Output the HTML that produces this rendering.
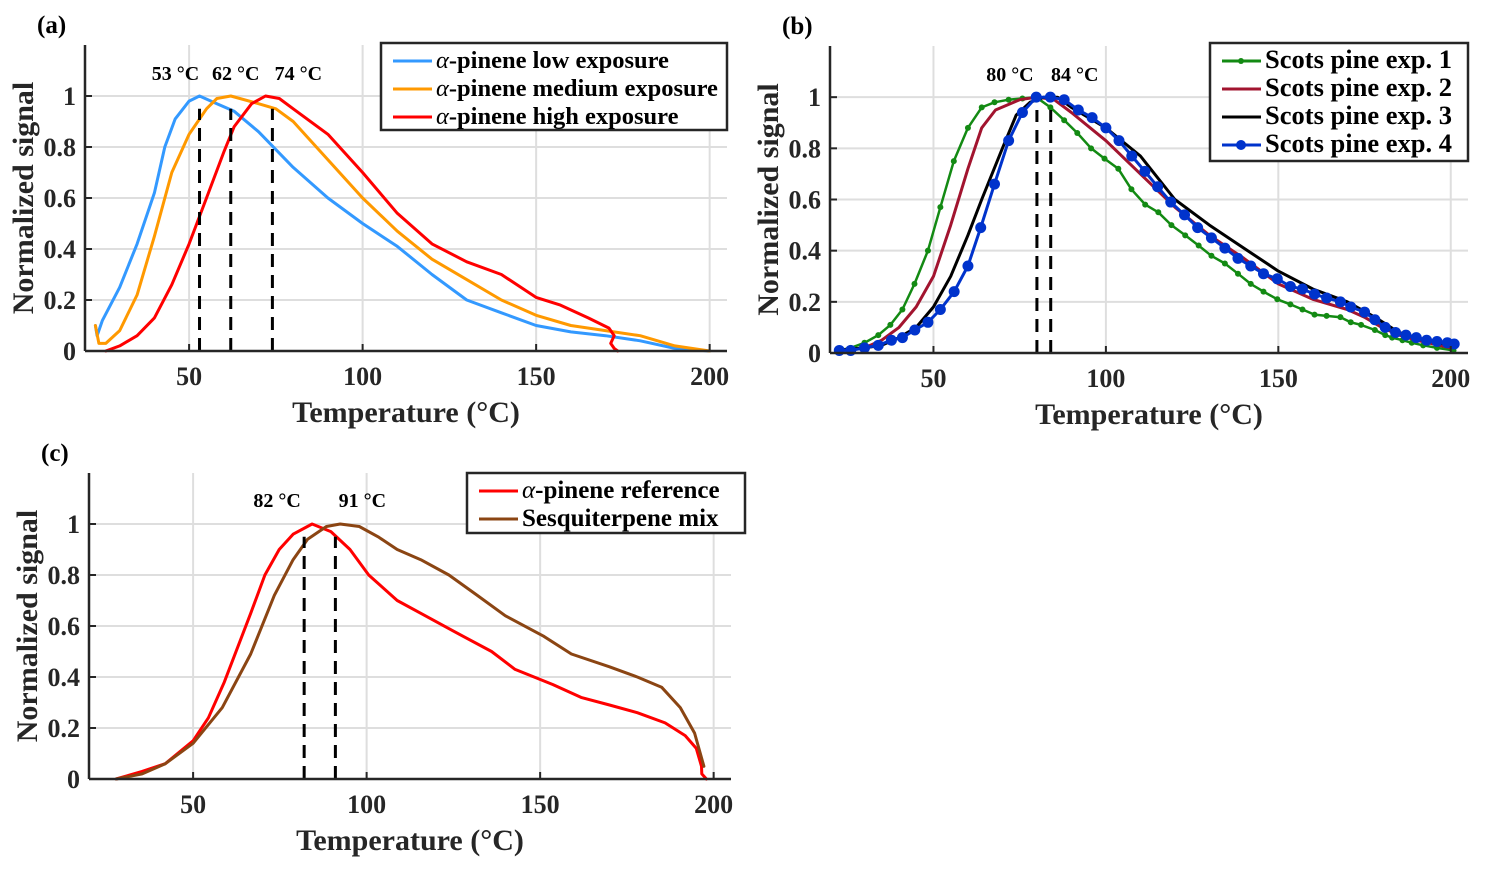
<!DOCTYPE html>
<html><head><meta charset="utf-8"><style>
html,body{margin:0;padding:0;background:#fff;}
svg{display:block;font-family:"Liberation Serif",serif;}
</style></head><body>
<svg id="fig" width="1486" height="869" viewBox="0 0 1486 869" xmlns="http://www.w3.org/2000/svg"></svg>
<script>
// ---------- data ----------
const xTicks = [50, 100, 150, 200];
const yTicks = [0, 0.2, 0.4, 0.6, 0.8, 1];
const yTickLabels = ["0", "0.2", "0.4", "0.6", "0.8", "1"];

// panel (a)
const aLowT = [23,23.5,25,30,35,40,43,46,50,53,58,63,70,80,90,100,110,120,130,140,150,160,170,180,190,200];
const aLowY = [0.1,0.06,0.12,0.25,0.42,0.62,0.8,0.91,0.98,1.0,0.97,0.94,0.86,0.72,0.6,0.5,0.41,0.3,0.2,0.15,0.1,0.075,0.06,0.04,0.01,0];
const aMedT = [23,24,26,30,35,40,45,50,55,58,62,70,75,80,90,100,110,120,130,140,150,160,170,180,190,200];
const aMedY = [0.1,0.03,0.03,0.08,0.22,0.45,0.7,0.85,0.95,0.99,1.0,0.97,0.95,0.9,0.75,0.6,0.47,0.36,0.28,0.2,0.14,0.1,0.08,0.06,0.02,0];
const aHighT = [26,30,35,40,45,50,55,60,63,68,72,76,80,90,100,110,120,130,140,150,157,165,171,172.5,171.5,172.5,173.5];
const aHighY = [0,0.02,0.06,0.13,0.26,0.42,0.6,0.78,0.88,0.97,1.0,0.99,0.95,0.85,0.7,0.54,0.42,0.35,0.3,0.21,0.18,0.13,0.09,0.06,0.03,0.01,0];
const aPeaks = [53, 62, 74];
const aPeakLabels = ["53 °C", "62 °C", "74 °C"];

// panel (b)
const b1T = [22.7,26,30,34,37.5,41,44.5,48.4,52,55.9,60,64,67.7,71.8,75.8,79.8,83.9,87.9,91.7,95.7,99.6,103.6,107.4,111.4,115.2,119,123,126.9,130.6,134.5,138.3,142,145.7,149.7,153.5,157,160.5,164,168,171,174,178,181,183,186,188.7,192,196,200.8];
const b1Y = [0.01,0.02,0.04,0.07,0.11,0.17,0.27,0.4,0.57,0.75,0.88,0.96,0.98,0.99,0.995,1.0,0.96,0.91,0.86,0.8,0.76,0.72,0.64,0.58,0.55,0.5,0.46,0.42,0.38,0.35,0.31,0.27,0.24,0.21,0.19,0.17,0.15,0.145,0.14,0.12,0.11,0.09,0.07,0.06,0.05,0.04,0.03,0.02,0.01];
const b2T = [22,30,35,40,45,50,55,60,64,68,75,80,85,90,100,110,120,130,140,150,160,170,175,180,185,190,200];
const b2Y = [0.01,0.02,0.05,0.1,0.18,0.3,0.5,0.72,0.88,0.95,0.99,1.0,0.99,0.94,0.83,0.7,0.57,0.46,0.37,0.27,0.21,0.17,0.14,0.1,0.07,0.05,0.02];
const b3T = [22,30,35,40,45,50,55,60,64,70,74,78,82,86,90,100,110,120,130,140,150,160,170,178,185,190,200];
const b3Y = [0.01,0.02,0.03,0.06,0.1,0.18,0.3,0.46,0.6,0.8,0.93,0.98,1.0,1.0,0.96,0.88,0.77,0.6,0.5,0.41,0.32,0.25,0.2,0.14,0.08,0.06,0.03];
const b4T = [22.7,26,30,34,37.8,41,44.6,48.4,52,56,60,63.7,67.7,71.8,75.8,79.8,83.9,87.9,92,96,100,103.8,107.5,111.3,115,118.8,122.8,126.6,130.6,134.5,138.3,142,145.7,149.7,153.5,157,160.5,164,168,171,175,178,181,184,187,190,193,196,199,201];
const b4Y = [0.01,0.01,0.02,0.03,0.05,0.06,0.09,0.12,0.17,0.24,0.34,0.49,0.66,0.83,0.94,1.0,1.0,0.99,0.95,0.92,0.88,0.83,0.77,0.71,0.65,0.59,0.54,0.49,0.45,0.41,0.37,0.34,0.31,0.29,0.26,0.25,0.23,0.215,0.2,0.18,0.16,0.13,0.1,0.08,0.07,0.06,0.05,0.045,0.04,0.035];
const bPeaks = [80, 84];
const bPeakLabels = ["80 °C", "84 °C"];

// panel (c)
const cRefT = [27.8,35.3,42,50,54.4,59,61.8,66.6,70.7,74.8,78.8,84.3,89.7,95.2,100.6,108.8,115.6,125,136,142.8,153.7,161.8,170,178,186,191.8,195,196.5,196.6,197.9];
const cRefY = [0,0.03,0.06,0.15,0.24,0.38,0.48,0.65,0.8,0.9,0.96,1.0,0.97,0.9,0.8,0.7,0.65,0.58,0.5,0.43,0.37,0.32,0.29,0.26,0.22,0.17,0.12,0.05,0.02,0];
const cSesT = [27.8,35.3,42,50,58.4,66.6,73.4,78.8,83,88.4,92.4,97.9,103.3,108.8,115.6,123.7,131.9,140,151,159,170,178,185,190.4,194.5,197.2];
const cSesY = [0,0.02,0.06,0.14,0.28,0.49,0.72,0.86,0.94,0.99,1.0,0.99,0.95,0.9,0.86,0.8,0.72,0.64,0.56,0.49,0.44,0.4,0.36,0.28,0.18,0.05];
const cPeaks = [82, 91];
const cPeakLabels = ["82 °C", "91 °C"];

// ---------- drawing ----------
const NS = "http://www.w3.org/2000/svg";
const svg = document.getElementById("fig");
function mk(tag, attrs, parent, text) {
  const e = document.createElementNS(NS, tag);
  for (const k in attrs) e.setAttribute(k, attrs[k]);
  if (text !== undefined) e.textContent = text;
  (parent || svg).appendChild(e);
  return e;
}
function makeAxes(box, id) {
  const sx = v => box.l + (v - 20) / (205 - 20) * (box.r - box.l);
  const sy = v => box.b - v / 1.2 * (box.b - box.t);
  const g = mk("g", {});
  
  
  xTicks.forEach(v => {
    const l = mk("line", {x1: sx(v), x2: sx(v), y1: box.t, y2: box.b, stroke: "#dedede", "stroke-width": 2}, g);
    
    
  });
  yTicks.forEach(v => {
    if (v === 0) return;
    const l = mk("line", {x1: box.l, x2: box.r, y1: sy(v), y2: sy(v), stroke: "#dedede", "stroke-width": 2}, g);
    
    
  });
  return {sx, sy, g};
}
function finishAxes(ax, box, id) {
  const {sx, sy, g} = ax;
  const xa = mk("line", {x1: box.l, x2: box.r, y1: box.b, y2: box.b, stroke: "#262626", "stroke-width": 2.5}, g);
  
  
  const ya = mk("line", {x1: box.l, x2: box.l, y1: box.t, y2: box.b, stroke: "#262626", "stroke-width": 2.5}, g);
  
  
  xTicks.forEach(v => {
    mk("line", {x1: sx(v), x2: sx(v), y1: box.b, y2: box.b - 7, stroke: "#262626", "stroke-width": 2}, g);
    const t = mk("text", {x: sx(v), y: box.b + 34, "text-anchor": "middle", "font-size": 26, "font-weight": "bold", fill: "#262626"}, g, String(v));
    
    
  });
  yTicks.forEach((v, i) => {
    mk("line", {x1: box.l, x2: box.l + 7, y1: sy(v), y2: sy(v), stroke: "#262626", "stroke-width": 2}, g);
    const t = mk("text", {x: box.l - 9, y: sy(v) + 9, "text-anchor": "end", "font-size": 26, "font-weight": "bold", fill: "#262626"}, g, yTickLabels[i]);
    
    
  });
  const xt = mk("text", {x: (box.l + box.r) / 2 - 0, y: box.b + 71, "text-anchor": "middle", "font-size": 30, "font-weight": "bold", fill: "#262626"}, g, "Temperature (°C)");
  
  
  const cy = (box.t + box.b) / 2;
  const yx = box.l - 52;
  const yt = mk("text", {x: yx, y: cy, "text-anchor": "middle", "font-size": 30, "font-weight": "bold", fill: "#262626", transform: `rotate(-90 ${yx} ${cy})`}, g, "Normalized signal");
  
  
  const pl = mk("text", {x: box.l - 48, y: box.t - 12, "font-size": 25, "font-weight": "bold", fill: "#000"}, g, "(" + id + ")");
  
  
}
function series(ax, T, Y, color, name, width, marker) {
  const pts = T.map((t, i) => ax.sx(t).toFixed(1) + "," + ax.sy(Y[i]).toFixed(1)).join(" ");
  const p = mk("polyline", {points: pts, fill: "none", stroke: color, "stroke-width": width, "stroke-linejoin": "round", "stroke-linecap": "round"}, ax.g);
  
  
  if (marker) {
    T.forEach((t, i) => {
      const c = mk("circle", {cx: ax.sx(t), cy: ax.sy(Y[i]), r: marker, fill: color}, ax.g);
      
      
    });
  }
}
function peaks(ax, P, L, offs, labelY) {
  P.forEach((v, i) => {
    const l = mk("line", {x1: ax.sx(v), x2: ax.sx(v), y1: ax.sy(0), y2: ax.sy(0.95), stroke: "#000", "stroke-width": 3, "stroke-dasharray": "13,8"}, ax.g);
    
    
  });
  L.forEach((s, i) => {
    const t = mk("text", {x: ax.sx(P[i]) + offs[i], y: labelY, "text-anchor": "middle", "font-size": 20, "font-weight": "bold", fill: "#000"}, ax.g, s);
    
    
  });
}
function legend(ax, x, y, w, h, fs, items) {
  const g = mk("g", {}, ax.g);
  
  
  mk("rect", {x, y, width: w, height: h, fill: "#fff", stroke: "#262626", "stroke-width": 2.5}, g);
  items.forEach((it, i) => {
    const cy = y + 18 + i * 28;
    const e = mk("g", {}, g);
    
    
    mk("line", {x1: x + 12, x2: x + 51, y1: cy, y2: cy, stroke: it.c, "stroke-width": 3}, e);
    if (it.m) mk("circle", {cx: x + 31, cy, r: it.m, fill: it.c}, e);
    const t = mk("text", {x: x + 55, y: cy + 7, "font-size": fs, "font-weight": "bold", fill: "#000"}, e);
    if (it.alpha) {
      mk("tspan", {"font-style": "italic", "font-weight": "normal"}, t, "α");
    }
    mk("tspan", {}, t, it.t);
  });
}

// (a)
const boxA = {l: 85, r: 727, t: 45, b: 351};
const A = makeAxes(boxA, "a");
series(A, aLowT, aLowY, "#3399ff", "series-low-exposure", 3);
series(A, aMedT, aMedY, "#ff9900", "series-medium-exposure", 3);
series(A, aHighT, aHighY, "#ff0000", "series-high-exposure", 3);
peaks(A, aPeaks, aPeakLabels, [-24, 5, 26], 80);
finishAxes(A, boxA, "a");
legend(A, 381, 43, 346, 87, 24.5, [
  {c: "#3399ff", t: "-pinene low exposure", alpha: true},
  {c: "#ff9900", t: "-pinene medium exposure", alpha: true},
  {c: "#ff0000", t: "-pinene high exposure", alpha: true}]);

// (b)
const boxB = {l: 830, r: 1468, t: 46, b: 353};
const B = makeAxes(boxB, "b");
series(B, b1T, b1Y, "#138a13", "series-scots-pine-1", 2.5, 3);
series(B, b2T, b2Y, "#a2142f", "series-scots-pine-2", 3);
series(B, b3T, b3Y, "#000000", "series-scots-pine-3", 3);
series(B, b4T, b4Y, "#0033cc", "series-scots-pine-4", 3, 5.5);
peaks(B, bPeaks, bPeakLabels, [-27, 24], 81);
finishAxes(B, boxB, "b");
legend(B, 1210, 43, 258, 118, 26.5, [
  {c: "#138a13", t: "Scots pine exp. 1", m: 3},
  {c: "#a2142f", t: "Scots pine exp. 2"},
  {c: "#000000", t: "Scots pine exp. 3"},
  {c: "#0033cc", t: "Scots pine exp. 4", m: 5}]);

// (c)
const boxC = {l: 89, r: 731, t: 473, b: 779};
const C = makeAxes(boxC, "c");
series(C, cRefT, cRefY, "#ff0000", "series-alpha-pinene-reference", 3);
series(C, cSesT, cSesY, "#8b4513", "series-sesquiterpene-mix", 3);
peaks(C, cPeaks, cPeakLabels, [-27, 27], 507);
finishAxes(C, boxC, "c");
legend(C, 467, 473, 278, 60, 25, [
  {c: "#ff0000", t: "-pinene reference", alpha: true},
  {c: "#8b4513", t: "Sesquiterpene mix"}]);
</script>
</body></html>
